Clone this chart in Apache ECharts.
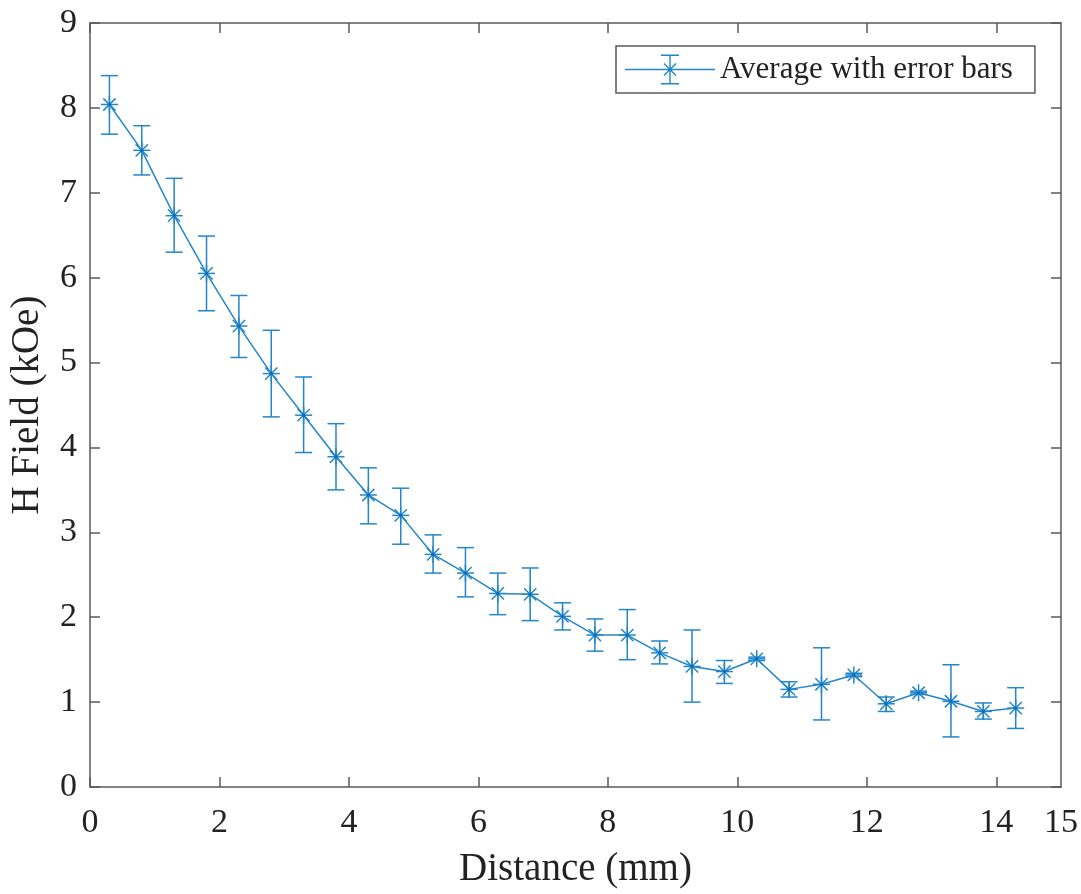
<!DOCTYPE html>
<html>
<head>
<meta charset="utf-8">
<script src="https://cdn.jsdelivr.net/npm/echarts@6/dist/echarts.min.js"></script>
<style>
  html, body { margin: 0; padding: 0; background: #fff; }
  #chart { width: 1081px; height: 894px; }
</style>
</head>
<body>
<div id="chart"></div>
<script>
// ---- Data ----
const seriesName = 'Average with error bars';
const distances = [0.3, 0.8, 1.3, 1.8, 2.3, 2.8, 3.3, 3.8, 4.3, 4.8, 5.3, 5.8, 6.3, 6.8, 7.3, 7.8, 8.3, 8.8, 9.3, 9.8, 10.3, 10.8, 11.3, 11.8, 12.3, 12.8, 13.3, 13.8, 14.3];
const means =     [8.04, 7.50, 6.73, 6.05, 5.43, 4.87, 4.38, 3.89, 3.44, 3.20, 2.74, 2.52, 2.28, 2.27, 2.01, 1.79, 1.79, 1.58, 1.42, 1.36, 1.51, 1.15, 1.21, 1.32, 0.98, 1.11, 1.01, 0.89, 0.93];
const upper =     [8.38, 7.79, 7.17, 6.49, 5.79, 5.38, 4.83, 4.28, 3.76, 3.52, 2.97, 2.82, 2.52, 2.58, 2.17, 1.98, 2.09, 1.72, 1.85, 1.49, 1.53, 1.24, 1.64, 1.34, 1.06, 1.13, 1.44, 0.99, 1.17];
const lower =     [7.69, 7.21, 6.30, 5.61, 5.06, 4.36, 3.94, 3.50, 3.10, 2.86, 2.52, 2.24, 2.03, 1.96, 1.85, 1.60, 1.50, 1.45, 1.00, 1.22, 1.49, 1.06, 0.79, 1.30, 0.89, 1.09, 0.59, 0.80, 0.69];
const xTickValues = [0, 2, 4, 6, 8, 10, 12, 14];
const xLabelValues = [0, 2, 4, 6, 8, 10, 12, 14, 15];
const xTitle = 'Distance (mm)';
const yTitle = 'H Field (kOe)';

// ---- Styles ----
const blue = '#2486c9';
const axisColor = '#5a5a5a';
const textColor = '#222222';
const font = '"Liberation Serif", "Times New Roman", serif';

const lineData = distances.map((d, i) => [d, means[i]]);
const errData = distances.map((d, i) => [d, means[i], lower[i], upper[i]]);

// legend glyph: line + error bar + asterisk, drawn inside a 90x30 box
const legendIcon = 'path://' +
  'M0 14.3 L90 14.3 L90 15.7 L0 15.7 Z ' +
  'M44.3 0 L45.7 0 L45.7 30 L44.3 30 Z ' +
  'M36 0 L54 0 L54 1.4 L36 1.4 Z ' +
  'M36 28.6 L54 28.6 L54 30 L36 30 Z ' +
  'M38.5 9.5 L39.5 8.5 L51.5 20.5 L50.5 21.5 Z ' +
  'M50.5 8.5 L51.5 9.5 L39.5 21.5 L38.5 20.5 Z';

const chart = echarts.init(document.getElementById('chart'));

function renderErr(params, api) {
  const x = api.value(0), y = api.value(1), lo = api.value(2), hi = api.value(3);
  const p = api.coord([x, y]);
  const pt = api.coord([x, hi]);
  const pb = api.coord([x, lo]);
  const cap = 8.5, r = 8.5, d = r * 0.72;
  const st = { stroke: blue, lineWidth: 1.5, fill: null };
  const L = (x1, y1, x2, y2) => ({ type: 'line', shape: { x1, y1, x2, y2 }, style: st });
  return {
    type: 'group',
    children: [
      L(pt[0], pt[1], pb[0], pb[1]),
      L(pt[0] - cap, pt[1], pt[0] + cap, pt[1]),
      L(pb[0] - cap, pb[1], pb[0] + cap, pb[1]),
      L(p[0] - r, p[1], p[0] + r, p[1]),
      L(p[0], p[1] - r, p[0], p[1] + r),
      L(p[0] - d, p[1] - d, p[0] + d, p[1] + d),
      L(p[0] - d, p[1] + d, p[0] + d, p[1] - d),
      { type: 'circle', shape: { cx: p[0], cy: p[1], r: 1.6 }, style: { fill: '#0a6fb8' } }
    ]
  };
}

const axisLineStyle = { color: axisColor, width: 1.5 };

chart.setOption({
  backgroundColor: '#ffffff',
  animation: false,
  grid: { left: 90, right: 20, top: 23, bottom: 104, containLabel: false },
  legend: {
    data: [{ name: seriesName, icon: legendIcon }],
    left: 616,
    top: 46,
    orient: 'horizontal',
    itemWidth: 90,
    itemHeight: 30,
    padding: [8, 22, 8, 9],
    borderColor: axisColor,
    borderWidth: 1.5,
    backgroundColor: '#ffffff',
    selectedMode: false,
    textStyle: { fontFamily: font, fontSize: 31, color: textColor }
  },
  xAxis: [
    {
      type: 'value', min: 0, max: 15, interval: 1, position: 'bottom',
      name: xTitle, nameLocation: 'middle', nameGap: 63,
      nameTextStyle: { fontFamily: font, fontSize: 39, color: textColor },
      axisLine: { show: true, onZero: false, lineStyle: axisLineStyle },
      axisTick: { show: true, inside: true, length: 10, customValues: xTickValues, lineStyle: axisLineStyle },
      axisLabel: { show: true, customValues: xLabelValues, margin: 19, fontFamily: font, fontSize: 34, color: textColor },
      splitLine: { show: false }
    },
    {
      type: 'value', min: 0, max: 15, interval: 1, position: 'top',
      axisLine: { show: true, onZero: false, lineStyle: axisLineStyle },
      axisTick: { show: true, inside: true, length: 10, customValues: xTickValues, lineStyle: axisLineStyle },
      axisLabel: { show: false },
      splitLine: { show: false }
    }
  ],
  yAxis: [
    {
      type: 'value', min: 0, max: 9, interval: 1, position: 'left',
      name: yTitle, nameLocation: 'middle', nameGap: 43, nameRotate: 90,
      nameTextStyle: { fontFamily: font, fontSize: 39, color: textColor },
      axisLine: { show: true, onZero: false, lineStyle: axisLineStyle },
      axisTick: { show: true, inside: true, length: 10, lineStyle: axisLineStyle },
      axisLabel: { show: true, margin: 13, fontFamily: font, fontSize: 34, color: textColor },
      splitLine: { show: false }
    },
    {
      type: 'value', min: 0, max: 9, interval: 1, position: 'right',
      axisLine: { show: true, onZero: false, lineStyle: axisLineStyle },
      axisTick: { show: true, inside: true, length: 10, lineStyle: axisLineStyle },
      axisLabel: { show: false },
      splitLine: { show: false }
    }
  ],
  series: [
    {
      name: seriesName,
      type: 'line',
      xAxisIndex: 0, yAxisIndex: 0,
      data: lineData,
      symbol: 'none',
      color: blue,
      lineStyle: { color: blue, width: 1.5 },
      z: 2
    },
    {
      name: seriesName,
      type: 'custom',
      xAxisIndex: 0, yAxisIndex: 0,
      data: errData,
      color: blue,
      renderItem: renderErr,
      encode: { x: 0, y: [1, 2, 3] },
      z: 3
    }
  ]
});
</script>
</body>
</html>
